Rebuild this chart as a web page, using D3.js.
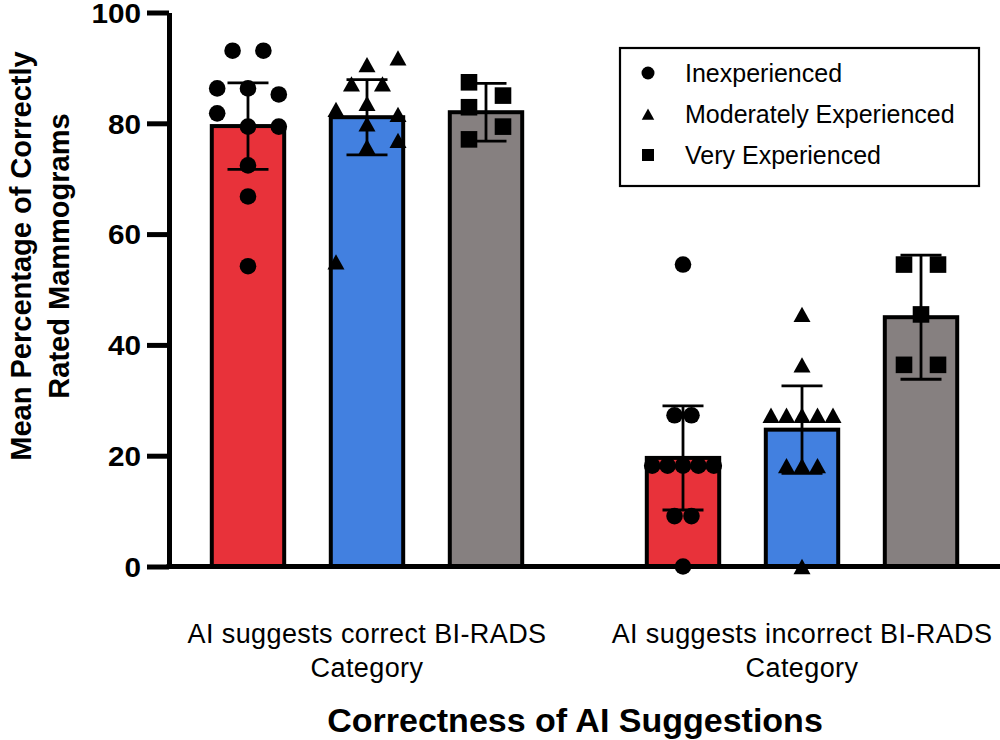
<!DOCTYPE html>
<html>
<head>
<meta charset="utf-8">
<script src="https://cdn.jsdelivr.net/npm/d3@7"></script>
<style>
  html, body { margin: 0; padding: 0; background: #fff; }
  svg { display: block; }
  text { font-family: "Liberation Sans", Arial, Helvetica, sans-serif; fill: #000; }
</style>
</head>
<body>
<svg id="chart" width="1000" height="740"></svg>
<script>
// ---------------- DATA ----------------
const groups = ["correct", "incorrect"];
const groupLabels = [
  ["AI suggests correct BI-RADS", "Category"],
  ["AI suggests incorrect BI-RADS", "Category"]
];
const series = ["Inexperienced", "Moderately Experienced", "Very Experienced"];
const seriesShapes = ["circle", "triangle", "square"];

const meanCorrect   = [79.5, 81.1, 82.0];
const meanIncorrect = [19.6, 24.7, 45.0];
const sdCorrect     = [7.8, 6.8, 5.2];
const sdIncorrect   = [9.4, 7.9, 11.2];

// individual reader values (percent) and their dodge column index
const ptsCorrectInexp    = [93.1, 93.1, 86.3, 86.3, 85.2, 81.8, 79.4, 79.4, 72.4, 66.8, 54.2];
const colCorrectInexp    = [-1, 1, -2, 0, 2, -2, 0, 2, 0, 0, 0];
const ptsCorrectModerate = [91.8, 90.6, 87.1, 87.1, 83.6, 82.5, 81.6, 79.9, 76.9, 75.8, 55.0];
const colCorrectModerate = [2, 0, -1, 1, 0, -2, 2, 0, 2, 0, -2];
const ptsCorrectVery     = [87.4, 85.0, 82.9, 79.4, 77.1];
const colCorrectVery     = [-1, 1, -1, 1, -1];

const ptsIncorrectInexp    = [54.5, 27.3, 27.3, 18.2, 18.2, 18.2, 18.2, 18.2, 9.1, 9.1, 0];
const colIncorrectInexp    = [0, -0.55, 0.55, -2, -1, 0, 1, 2, -0.55, 0.55, 0];
const ptsIncorrectModerate = [45.5, 36.4, 27.3, 27.3, 27.3, 27.3, 27.3, 18.2, 18.2, 18.2, 0];
const colIncorrectModerate = [0, 0, -2, -1, 0, 1, 2, -1, 0, 1, 0];
const ptsIncorrectVery     = [54.5, 54.5, 45.5, 36.4, 36.4];
const colIncorrectVery     = [-1, 1, 0, -1, 1];

const yTicks = [0, 20, 40, 60, 80, 100];
const yTitleLines = ["Mean Percentage of Correctly", "Rated Mammograms"];
const xTitle = "Correctness of AI Suggestions";

// ---------------- STYLE ----------------
const colors = ["#E8323A", "#4280E0", "#868080"];
const font = '"Liberation Sans", Arial, Helvetica, sans-serif';

// ---------------- BUILD ----------------
const means = [meanCorrect, meanIncorrect];
const sds = [sdCorrect, sdIncorrect];
const pts = [
  [[ptsCorrectInexp, colCorrectInexp], [ptsCorrectModerate, colCorrectModerate], [ptsCorrectVery, colCorrectVery]],
  [[ptsIncorrectInexp, colIncorrectInexp], [ptsIncorrectModerate, colIncorrectModerate], [ptsIncorrectVery, colIncorrectVery]]
];

const svg = d3.select("#chart");

const axisX = 169, plotRight = 1000;
const y = d3.scaleLinear().domain([0, 100]).range([566.5, 12.5]);

const x0 = d3.scaleBand().domain(groups).range([axisX, plotRight])
  .paddingInner(0.1793).paddingOuter(0.0448);
const x1 = d3.scaleBand().domain(series).range([0, x0.bandwidth()])
  .paddingInner(0.3916).paddingOuter(0.1958);

const barData = [];
groups.forEach((g, gi) => {
  series.forEach((s, si) => {
    barData.push({g, gi, s, si, mean: means[gi][si], sd: sds[gi][si]});
  });
});
const cx = d => x0(d.g) + x1(d.s) + x1.bandwidth() / 2;

// bars
svg.append("g").selectAll("rect").data(barData).join("rect")
  .attr("x", d => x0(d.g) + x1(d.s))
  .attr("width", x1.bandwidth())
  .attr("y", d => y(d.mean))
  .attr("height", d => y(0) - y(d.mean))
  .attr("fill", d => colors[d.si])
  .attr("stroke", "#000")
  .attr("stroke-width", 4);

// error bars
const eb = svg.append("g").attr("stroke", "#000").attr("stroke-width", 2.8);
eb.selectAll("line.v").data(barData).join("line").attr("class", "v")
  .attr("x1", cx).attr("x2", cx)
  .attr("y1", d => y(d.mean + d.sd)).attr("y2", d => y(d.mean - d.sd));
eb.selectAll("line.cu").data(barData).join("line").attr("class", "cu")
  .attr("x1", d => cx(d) - 20.5).attr("x2", d => cx(d) + 20.5)
  .attr("y1", d => y(d.mean + d.sd)).attr("y2", d => y(d.mean + d.sd));
eb.selectAll("line.cl").data(barData).join("line").attr("class", "cl")
  .attr("x1", d => cx(d) - 20.5).attr("x2", d => cx(d) + 20.5)
  .attr("y1", d => y(d.mean - d.sd)).attr("y2", d => y(d.mean - d.sd));

// markers
function shapePath(shape, size) {
  const h = size / 2;
  if (shape === "circle") {
    return `M${-h},0A${h},${h} 0 1,0 ${h},0A${h},${h} 0 1,0 ${-h},0Z`;
  } else if (shape === "triangle") {
    const th = size * 0.9 / 2;
    return `M0,${-th}L${h},${th}L${-h},${th}Z`;
  } else {
    return `M${-h},${-h}H${h}V${h}H${-h}Z`;
  }
}
const markerSize = [16.6, 17, 16.6];
const colSpacing = [15.4, 15.5, 17];

const pointData = [];
barData.forEach(d => {
  const [vals, cols] = pts[d.gi][d.si];
  vals.forEach((v, i) => pointData.push({v, c: cols[i], d}));
});
svg.append("g").selectAll("path").data(pointData).join("path")
  .attr("transform", p => `translate(${cx(p.d) + p.c * colSpacing[p.d.si]},${y(p.v)})`)
  .attr("d", p => shapePath(seriesShapes[p.d.si], markerSize[p.d.si]))
  .attr("fill", "#000");

// axes
const yAxis = d3.axisLeft(y).tickValues(yTicks).tickSize(22).tickSizeOuter(0).tickPadding(6);
const gy = svg.append("g").attr("transform", `translate(${axisX},0)`).call(yAxis);
gy.select(".domain").attr("stroke", "#000").attr("stroke-width", 5);
gy.selectAll(".tick line").attr("stroke", "#000").attr("stroke-width", 5);
const tickStretch = 1.1;
gy.selectAll(".tick text")
  .attr("font-family", font).attr("font-size", 27).attr("font-weight", "bold")
  .attr("fill", "#000").attr("dy", "0.36em")
  .attr("x", -28 / tickStretch)
  .attr("transform", `scale(${tickStretch},1)`);

svg.append("line")
  .attr("x1", axisX - 2.5).attr("x2", plotRight)
  .attr("y1", y(0)).attr("y2", y(0))
  .attr("stroke", "#000").attr("stroke-width", 5);

// group labels
groups.forEach((g, gi) => {
  const gx = x0(g) + x0.bandwidth() / 2;
  const t = svg.append("text")
    .attr("x", gx)
    .attr("y", 643)
    .attr("text-anchor", "middle")
    .attr("font-size", 27)
    .attr("letter-spacing", "0.4px");
  groupLabels[gi].forEach((line, li) => {
    t.append("tspan").attr("x", gx).attr("dy", li === 0 ? 0 : 34).text(line);
  });
});

// x title
svg.append("text")
  .attr("x", 575).attr("y", 732)
  .attr("text-anchor", "middle")
  .attr("font-size", 34).attr("font-weight", "bold")
  .text(xTitle);

// y title
const yt = svg.append("text")
  .attr("transform", "translate(31,256) rotate(-90)")
  .attr("text-anchor", "middle")
  .attr("font-size", 29).attr("font-weight", "bold");
yTitleLines.forEach((line, li) => {
  yt.append("tspan").attr("x", 0).attr("dy", li === 0 ? 0 : 38).text(line);
});

// legend
const lg = svg.append("g");
lg.append("rect")
  .attr("x", 620).attr("y", 48).attr("width", 359).attr("height", 138)
  .attr("fill", "#fff").attr("stroke", "#000").attr("stroke-width", 2.2);
const legendY = d3.scalePoint().domain(series).range([73, 155]);
const legendMarker = [13, 12.5, 12];
series.forEach((s, si) => {
  lg.append("path")
    .attr("transform", `translate(648,${legendY(s)})`)
    .attr("d", shapePath(seriesShapes[si], legendMarker[si]))
    .attr("fill", "#000");
  lg.append("text")
    .attr("x", 685).attr("y", legendY(s) + 9)
    .attr("font-size", 25)
    .text(s);
});
</script>
</body>
</html>
